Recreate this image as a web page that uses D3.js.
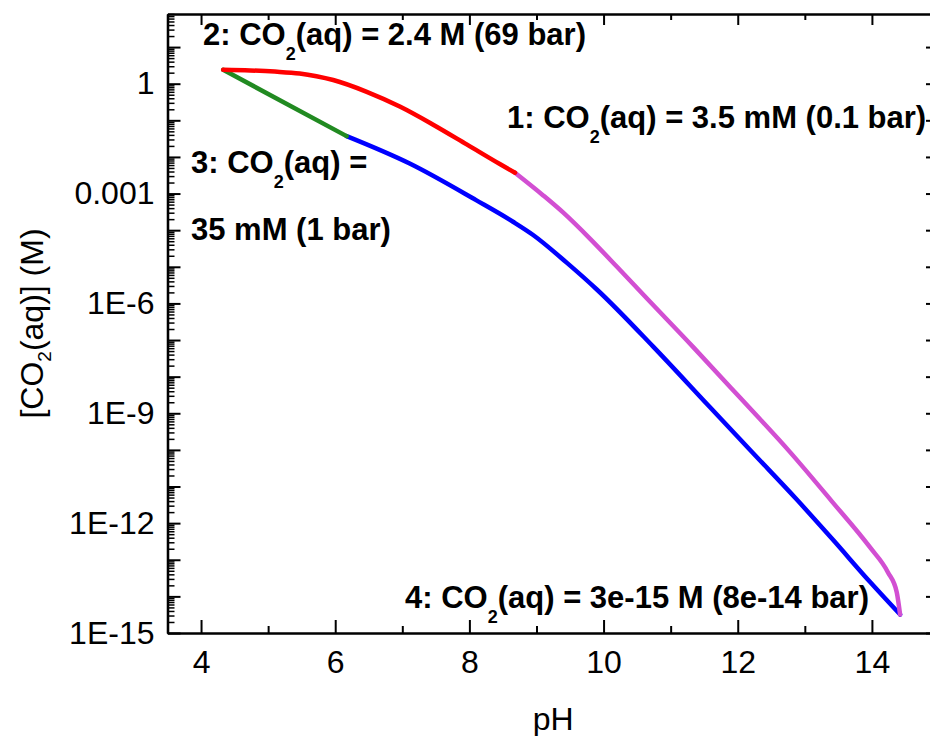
<!DOCTYPE html>
<html>
<head>
<meta charset="utf-8">
<script src="https://cdn.jsdelivr.net/npm/d3@7"></script>
<style>
  body { margin: 0; background: #fff; }
  svg { display: block; }
</style>
</head>
<body>
<script>
const width = 930;
const height = 736;

// pH / [CO2(aq)] in M
const redPH   = [4.33, 4.73, 5.10, 5.47, 5.72, 5.97, 6.47, 6.97, 7.46, 7.96, 8.46, 8.68];
const redCO2  = [2.4, 2.3, 2.14, 1.9, 1.6, 1.26, 0.60, 0.234, 0.076, 0.022, 0.0063, 0.0037];
const greenPH  = [4.33, 6.17];
const greenCO2 = [2.4, 0.037];
const bluePH  = [6.17, 7.11, 8.10, 8.65, 8.95, 9.45, 9.90, 10.74, 11.58, 12.23, 12.88, 13.42, 13.97, 14.42];
const blueCO2 = [0.037, 0.0066, 6.6e-4, 1.7e-4, 7.4e-5, 1.3e-5, 2.4e-6, 6.6e-8, 1.5e-9, 8.1e-11, 4.4e-12, 3.5e-13, 2.5e-14, 3.2e-15];
const magPH  = [8.68, 9.10, 9.40, 9.80, 10.20, 10.64, 11.34, 12.04, 12.78, 13.40, 13.97, 14.24, 14.37, 14.42];
const magCO2 = [0.0037, 8.9e-4, 3.0e-4, 5.8e-5, 1.0e-5, 1.4e-6, 6.3e-8, 2.6e-9, 8.7e-11, 4.0e-12, 2.2e-13, 4.5e-14, 1.3e-14, 3.2e-15];

const xTicks = [4, 6, 8, 10, 12, 14];
const xMinor = [5, 7, 9, 11, 13, 15];
const yLabeled = [1, 1e-3, 1e-6, 1e-9, 1e-12, 1e-15];
const yLabels = ['1', '0.001', '1E-6', '1E-9', '1E-12', '1E-15'];

const svg = d3.select('body').append('svg')
    .attr('width', width)
    .attr('height', height)
    .style('font-family', '"Liberation Sans", Arial, sans-serif');

const plotLeft = 167.5, plotRight = 939, plotTop = 14, plotBottom = 633;

const x = d3.scaleLinear().domain([3.5, 15]).range([plotLeft, plotRight]);
const y = d3.scaleLog().domain([1e-15, 80]).range([plotBottom, plotTop]);

// decade and minor log ticks
const decades = d3.range(-15, 2).map(e => Math.pow(10, e));
const yMinor = [];
d3.range(-15, 2).forEach(e => {
    for (let k = 2; k <= 9; k++) {
        const v = k * Math.pow(10, e);
        if (v <= 80) yMinor.push(v);
    }
});

function styleAxis(g) {
    g.select('.domain').attr('stroke', '#000').attr('stroke-width', 2.2);
    g.selectAll('.tick line').attr('stroke', '#000').attr('stroke-width', 2);
}

// bottom axis
svg.append('g')
    .attr('transform', `translate(0,${plotBottom})`)
    .call(d3.axisBottom(x).tickValues(xTicks).tickSize(-13).tickPadding(17).tickSizeOuter(0))
    .call(styleAxis)
    .call(g => g.selectAll('text').attr('font-size', 32).attr('fill', '#000'));
svg.append('g')
    .attr('transform', `translate(0,${plotBottom})`)
    .call(d3.axisBottom(x).tickValues(xMinor).tickSize(-7).tickFormat('').tickSizeOuter(0))
    .call(styleAxis);

// top axis
svg.append('g')
    .attr('transform', `translate(0,${plotTop})`)
    .call(d3.axisTop(x).tickValues(xTicks).tickSize(-11).tickFormat('').tickSizeOuter(0))
    .call(styleAxis);
svg.append('g')
    .attr('transform', `translate(0,${plotTop})`)
    .call(d3.axisTop(x).tickValues(xMinor).tickSize(-6).tickFormat('').tickSizeOuter(0))
    .call(styleAxis);

// left axis
svg.append('g')
    .attr('transform', `translate(${plotLeft},0)`)
    .call(d3.axisLeft(y).tickValues(yLabeled).tickSize(0).tickPadding(13)
        .tickFormat((d, i) => yLabels[i]).tickSizeOuter(0))
    .call(styleAxis)
    .call(g => g.selectAll('text').attr('font-size', 32).attr('fill', '#000'));
svg.append('g')
    .attr('transform', `translate(${plotLeft},0)`)
    .call(d3.axisLeft(y).tickValues(decades).tickSize(-13).tickFormat('').tickSizeOuter(0))
    .call(styleAxis);
svg.append('g')
    .attr('transform', `translate(${plotLeft},0)`)
    .call(d3.axisLeft(y).tickValues(yMinor).tickSize(-7).tickFormat('').tickSizeOuter(0))
    .call(styleAxis)
    .call(g => g.selectAll('.tick line').attr('stroke-width', 1.5));

// right axis (sits just past the picture edge)
svg.append('g')
    .attr('transform', `translate(${plotRight},0)`)
    .call(d3.axisRight(y).tickValues(decades).tickSize(-13).tickFormat('').tickSizeOuter(0))
    .call(styleAxis);
svg.append('g')
    .attr('transform', `translate(${plotRight},0)`)
    .call(d3.axisRight(y).tickValues(yMinor).tickSize(-7).tickFormat('').tickSizeOuter(0))
    .call(styleAxis);

// curves
const line = d3.line()
    .x(d => x(d[0]))
    .y(d => y(d[1]))
    .curve(d3.curveMonotoneX);

const series = [
    { ph: bluePH, co2: blueCO2, color: '#0000ff' },
    { ph: magPH, co2: magCO2, color: '#d24fd2' },
    { ph: greenPH, co2: greenCO2, color: '#218a21' },
    { ph: redPH, co2: redCO2, color: '#ff0000' }
];

svg.selectAll('path.curve')
    .data(series)
    .enter()
    .append('path')
    .attr('class', 'curve')
    .attr('d', s => line(s.ph.map((p, i) => [p, s.co2[i]])))
    .attr('fill', 'none')
    .attr('stroke', s => s.color)
    .attr('stroke-width', 4.5)
    .attr('stroke-linecap', 'round')
    .attr('stroke-linejoin', 'round');

// annotations with CO2 subscript
function label(px, py, before, after) {
    const t = svg.append('text')
        .attr('x', px)
        .attr('y', py)
        .attr('font-size', 31)
        .attr('font-weight', 'bold')
        .attr('fill', '#000');
    t.append('tspan').text(before);
    t.append('tspan').text('2').attr('font-size', 18).attr('dy', 15);
    t.append('tspan').text(after).attr('dy', -15);
}

label(203, 45, '2: CO', '(aq) = 2.4 M (69 bar)');
label(507, 128, '1: CO', '(aq) = 3.5 mM (0.1 bar)');
label(191, 173, '3: CO', '(aq) =');
svg.append('text')
    .attr('x', 191)
    .attr('y', 240)
    .attr('font-size', 31)
    .attr('font-weight', 'bold')
    .text('35 mM (1 bar)');
label(405, 608, '4: CO', '(aq) = 3e-15 M (8e-14 bar)');

// axis titles
svg.append('text')
    .attr('x', (plotLeft + plotRight) / 2)
    .attr('y', 730)
    .attr('text-anchor', 'middle')
    .attr('font-size', 32)
    .text('pH');

const yt = svg.append('text')
    .attr('transform', `translate(43,${(plotTop + plotBottom) / 2}) rotate(-90)`)
    .attr('text-anchor', 'middle')
    .attr('font-size', 32);
yt.append('tspan').text('[CO');
yt.append('tspan').text('2').attr('font-size', 19).attr('dy', 8);
yt.append('tspan').text('(aq)] (M)').attr('dy', -8);
</script>
</body>
</html>
